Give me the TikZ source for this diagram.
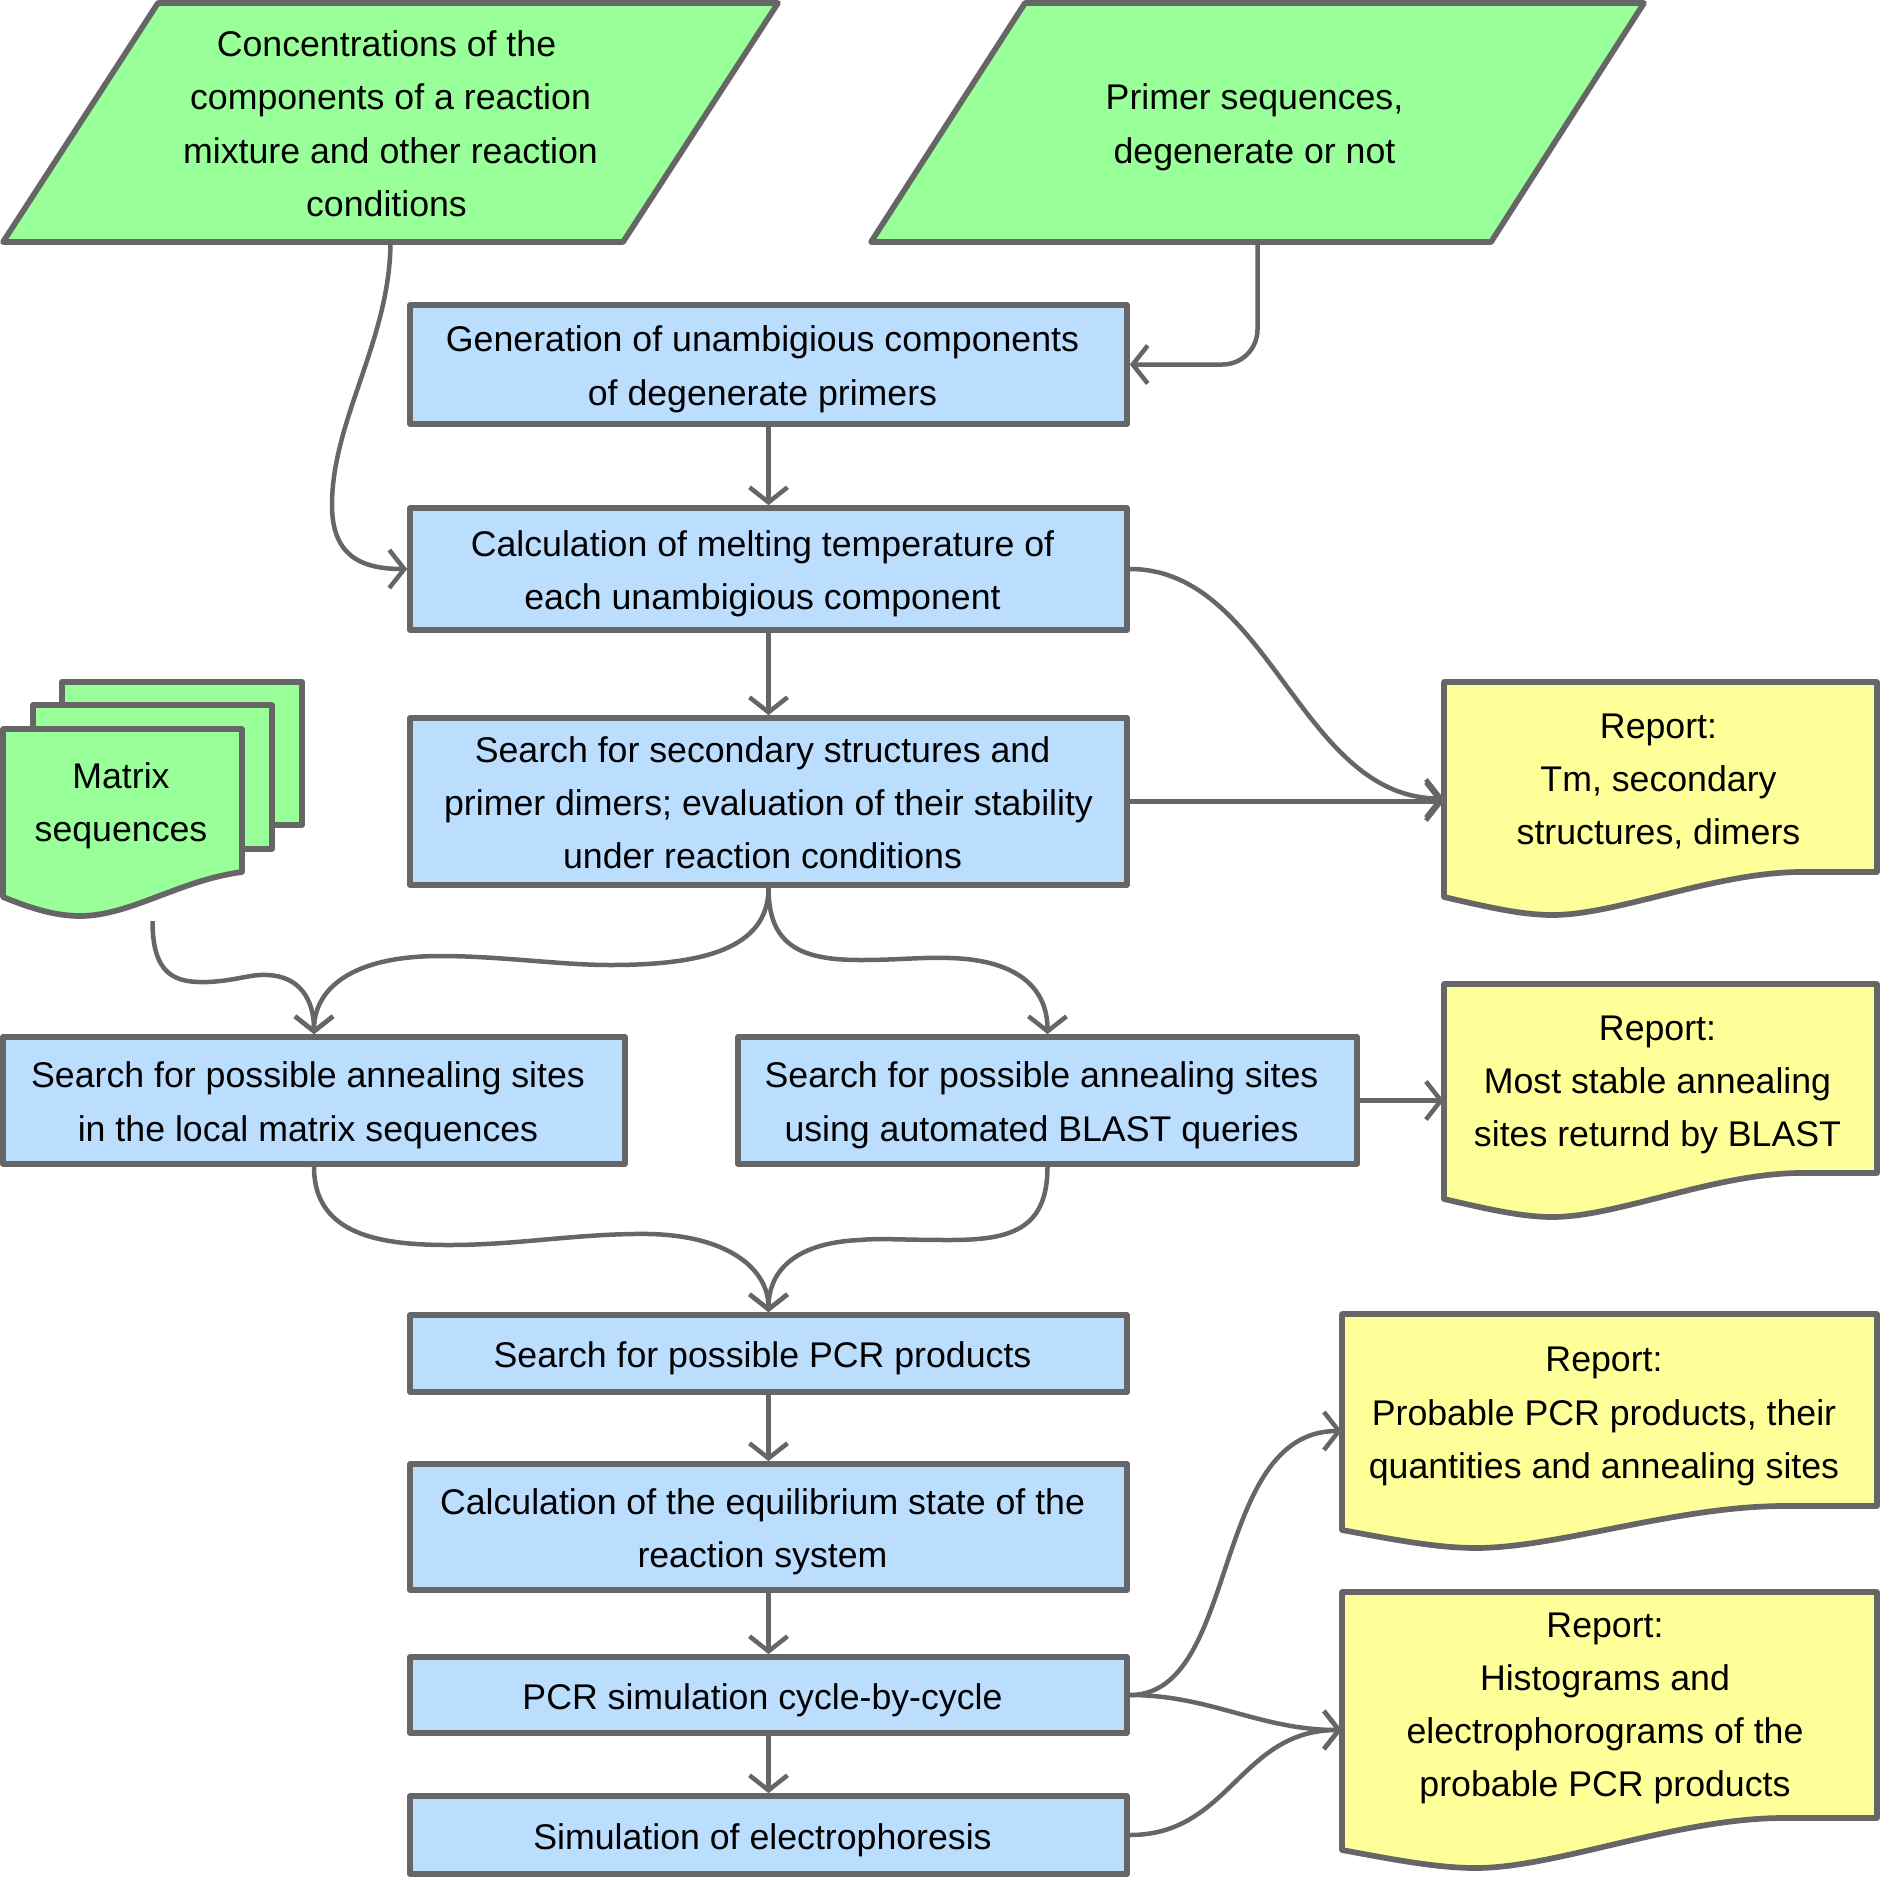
\documentclass[tikz,border=0pt]{standalone}
\usepackage{fontspec}
\setmainfont{Liberation Sans}
\usetikzlibrary{arrows.meta}
\definecolor{linec}{HTML}{666666}
\definecolor{greenf}{HTML}{99FF99}
\definecolor{bluef}{HTML}{BBDEFF}
\definecolor{yellowf}{HTML}{FFFF99}
\tikzset{
  shapeline/.style={draw=linec, line width=5.7pt, line join=round},
  txt/.style={font=\fontsize{35.7}{53.3}\selectfont, align=center, inner sep=0pt, text=black},
  box/.style={txt, shapeline, fill=bluef, minimum width=717pt},
  area/.style={inner sep=0pt, draw=none, fill=none},
  arr/.style={draw=linec, line width=4.5pt, -{Straight Barb[length=15pt,width=38pt]}}
}
% text line with fixed height/depth (and a right pad that moves the ink left)
\newcommand\tl[2][12pt]{\rule[-10pt]{0pt}{48pt}#2\hspace*{#1}}
% #1 fill, #2 L, #3 R, #4 T, #5 M (lowest y of wave), #6 rise at right
\newcommand\docshape[6]{\filldraw[shapeline,fill=#1] (#2,#4) -- (#3,#4) -- (#3,{#5-#6})
  -- ({#2+0.82*(#3-#2)},{#5-#6}) .. controls ({#2+0.62*(#3-#2)},{#5-#6+1}) and ({#2+0.4*(#3-#2)},#5)
  .. ({#2+0.25*(#3-#2)},#5) .. controls ({#2+0.18*(#3-#2)},#5) and ({#2+0.1*(#3-#2)},{#5-8})
  .. (#2,{#5-18}) -- cycle;}
\begin{document}
\begin{tikzpicture}[x=1pt,y=-1pt]
\useasboundingbox (0,0) rectangle (1880,1877);
% input parallelograms
\filldraw[shapeline,fill=greenf] (158,3) -- (778,3) -- (623,242) -- (3,242) -- cycle;
\filldraw[shapeline,fill=greenf] (1025,3) -- (1644,3) -- (1491,242) -- (871,242) -- cycle;
\node[txt,minimum width=620pt,minimum height=239pt] (p1) at (390.5,122.5)
  {\tl[8pt]{Concentrations of the}\\\tl[8pt]{components of a reaction}\\\tl[8pt]{mixture and other reaction}\\\tl[8pt]{conditions}};
\node[txt,minimum width=620pt,minimum height=239pt] (p2) at (1257.5,122.5)
  {\tl[6pt]{Primer sequences,}\\\tl[6pt]{degenerate or not}};
% matrix sequences (multi-document)
\filldraw[shapeline,fill=greenf] (62,682) rectangle (302,825);
\filldraw[shapeline,fill=greenf] (33,705) rectangle (272,849);
\filldraw[shapeline,fill=greenf] (3,729) -- (242,729) -- (242,872)
  .. controls (180,880) and (130,916) .. (80,916) .. controls (55,916) and (30,908) .. (3,897) -- cycle;
\node[area,minimum width=239pt,minimum height=192pt] (mat) at (122.5,825) {};
\node[txt] (matt) at (121,801) {\tl[0pt]{Matrix}\\\tl[0pt]{sequences}};
% reports
\docshape{yellowf}{1444}{1877}{682}{915}{43}
\docshape{yellowf}{1444}{1877}{984}{1217}{44}
\docshape{yellowf}{1342}{1877}{1314}{1548}{42}
\docshape{yellowf}{1342}{1877}{1592}{1868}{50}
\node[area,minimum width=433pt,minimum height=233pt] (r1) at (1660.5,798.5) {};
\node[area,minimum width=433pt,minimum height=233pt] (r2) at (1660.5,1100.5) {};
\node[area,minimum width=535pt,minimum height=234pt] (r3) at (1609.5,1431) {};
\node[area,minimum width=535pt,minimum height=276pt] (r4) at (1609.5,1730) {};
\node[txt] (r1t) at (1658.5,777.5) {\tl[0pt]{Report:}\\\tl[0pt]{Tm, secondary}\\\tl[0pt]{structures, dimers}};
\node[txt] (r2t) at (1657.5,1079.5) {\tl[0pt]{Report:}\\\tl[0pt]{Most stable annealing}\\\tl[0pt]{sites returnd by BLAST}};
\node[txt] (r3t) at (1604,1411) {\tl[0pt]{Report:}\\\tl[0pt]{Probable PCR products, their}\\\tl[0pt]{quantities and annealing sites}};
\node[txt] (r4t) at (1605,1703) {\tl[0pt]{Report:}\\\tl[0pt]{Histograms and}\\\tl[0pt]{electrophorograms of the}\\\tl[0pt]{probable PCR products}};
% process boxes
\node[box,minimum height=119pt] (gen) at (768.5,364.5) {\tl{Generation of unambigious components}\\\tl{of degenerate primers}};
\node[box,minimum height=122pt] (calc) at (768.5,569) {\tl{Calculation of melting temperature of}\\\tl{each unambigious component}};
\node[box,minimum height=167pt] (sec) at (768.5,801.5) {\tl{Search for secondary structures and}\\\tl{primer dimers; evaluation of their stability}\\\tl{under reaction conditions}};
\node[box,minimum width=622pt,minimum height=127pt] (local) at (314,1100.5) {\tl{Search for possible annealing sites}\\\tl{in the local matrix sequences}};
\node[box,minimum width=619pt,minimum height=127pt] (blast) at (1047.5,1100.5) {\tl{Search for possible annealing sites}\\\tl{using automated BLAST queries}};
\node[box,minimum height=77pt] (pcr) at (768.5,1353.5) {\tl{Search for possible PCR products}};
\node[box,minimum height=126pt] (equi) at (768.5,1527) {\tl{Calculation of the equilibrium state of the}\\\tl{reaction system}};
\node[box,minimum height=76pt] (sim) at (768.5,1695) {\tl{PCR simulation cycle-by-cycle}};
\node[box,minimum height=78pt] (elec) at (768.5,1835) {\tl{Simulation of electrophoresis}};
% connectors
\draw[arr] (p1.south) .. controls (390,340) and (332,420) .. (332,505) .. controls (332,555) and (360,569) .. (calc.west);
\draw[arr,rounded corners=35pt] (p2.south) |- (gen.east);
\draw[arr] (gen.south) -- (calc.north);
\draw[arr] (calc.south) -- (sec.north);
\draw[arr] (calc.east) .. controls (1270,569) and (1300,798.5) .. (r1.west);
\draw[arr] (sec.east) -- (sec.east -| r1.west);
\draw[arr] ([xshift=30pt]mat.south) .. controls (152.5,975) and (175,983) .. (207,982) .. controls (235,981) and (250,974) .. (267,975) .. controls (300,976) and (314,1000) .. (local.north);
\draw[arr] (sec.south) .. controls (768.5,950) and (700,965) .. (610,965) .. controls (560,965) and (500,956) .. (440,956) .. controls (350,956) and (314,990) .. (local.north);
\draw[arr] (sec.south) .. controls (768.5,945) and (800,960) .. (860,960) .. controls (900,960) and (920,957) .. (950,958) .. controls (1020,960) and (1047.5,990) .. (blast.north);
\draw[arr] (local.south) .. controls (314,1235) and (380,1245) .. (449,1245) .. controls (520,1245) and (580,1233) .. (650,1234) .. controls (730,1236) and (768.5,1270) .. (pcr.north);
\draw[arr] (blast.south) .. controls (1047.5,1230) and (1010,1240) .. (950,1240) .. controls (900,1240) and (880,1238) .. (860,1240) .. controls (790,1243) and (768.5,1275) .. (pcr.north);
\draw[arr] (blast.east) -- (r2.west);
\draw[arr] (pcr.south) -- (equi.north);
\draw[arr] (equi.south) -- (sim.north);
\draw[arr] (sim.south) -- (elec.north);
\draw[arr] (sim.east) .. controls (1240,1695) and (1210,1431) .. (r3.west);
\draw[arr] (sim.east) .. controls (1210,1695) and (1260,1730) .. (r4.west);
\draw[arr] (elec.east) .. controls (1230,1835) and (1240,1730) .. (r4.west);
\end{tikzpicture}
\end{document}
